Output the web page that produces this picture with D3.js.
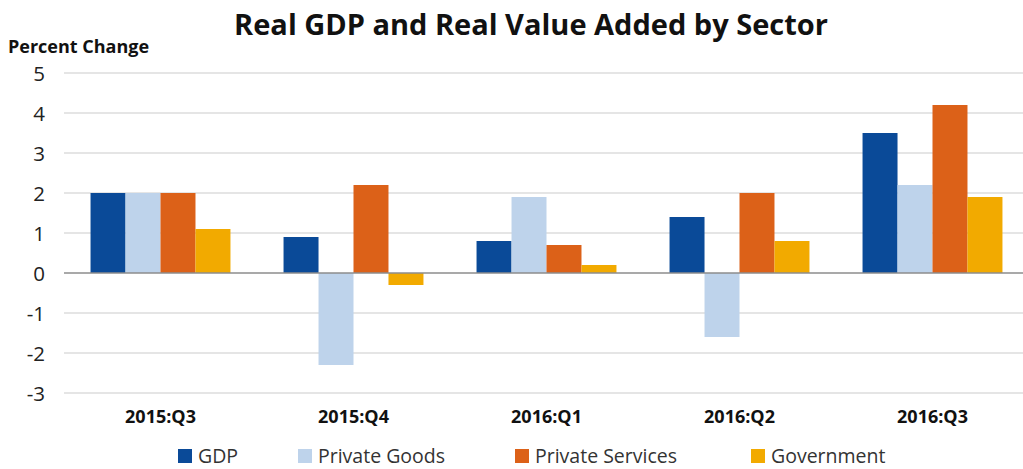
<!DOCTYPE html>
<html><head><meta charset="utf-8">
<script src="https://cdn.jsdelivr.net/npm/d3@7"></script>
<style>html,body{margin:0;padding:0;background:#fff;}</style>
</head><body>
<svg id="c" width="1023" height="469"></svg>
<script>
const categories = ["2015:Q3","2015:Q4","2016:Q1","2016:Q2","2016:Q3"];
const seriesNames = ["GDP","Private Goods","Private Services","Government"];
const gdp = [2.0, 0.9, 0.8, 1.4, 3.5];
const privateGoods = [2.0, -2.3, 1.9, -1.6, 2.2];
const privateServices = [2.0, 2.2, 0.7, 2.0, 4.2];
const government = [1.1, -0.3, 0.2, 0.8, 1.9];
const yTicks = [5,4,3,2,1,0,-1,-2,-3];
const colors = ["#0a4a98","#bed3eb","#dc6118","#f2aa00"];

const values = [gdp, privateGoods, privateServices, government];
const font = "'Open Sans', 'Noto Sans', sans-serif";
const svg = d3.select("#c");
const left = 64, right = 1029, gridRight = 1023;
const y = d3.scaleLinear().domain([-3,5]).range([393,73]);
const x0 = d3.scaleBand().domain(categories).range([left,right]).paddingInner(0.275).paddingOuter(0.1375);
const x1 = d3.scaleBand().domain(seriesNames).range([0,x0.bandwidth()]);

svg.append("text").attr("x",531).attr("y",35).attr("text-anchor","middle")
  .attr("font-family",font).attr("font-weight","bold").attr("font-size",29).attr("fill","#111")
  .text("Real GDP and Real Value Added by Sector");
svg.append("text").attr("x",8).attr("y",53)
  .attr("font-family",font).attr("font-weight","bold").attr("font-size",18).attr("fill","#111")
  .text("Percent Change");

// gridlines
svg.append("g").selectAll("line").data(yTicks.filter(d=>d!==0)).join("line")
  .attr("x1",left).attr("x2",gridRight).attr("y1",d=>y(d)).attr("y2",d=>y(d))
  .attr("stroke","#dcdcdc").attr("stroke-width",1.5);

// y labels
const yAxis = d3.axisLeft(y).tickValues(yTicks).tickSize(0).tickPadding(0).tickFormat(d=>String(d));
const ya = svg.append("g").attr("transform","translate(45,0)").call(yAxis);
ya.select(".domain").remove();
ya.selectAll("text").attr("font-family",font).attr("font-size",20.5).attr("fill","#222").attr("text-anchor","end").attr("dy","0.35em");

// bars
const g = svg.append("g");
categories.forEach((c,i)=>{
  seriesNames.forEach((s,j)=>{
    const v = values[j][i];
    g.append("rect").attr("x",x0(c)+x1(s)).attr("width",x1.bandwidth())
      .attr("y",y(Math.max(0,v))).attr("height",Math.abs(y(v)-y(0)))
      .attr("fill",colors[j]);
  });
});

// zero line
svg.append("line").attr("x1",left).attr("x2",gridRight).attr("y1",y(0)).attr("y2",y(0))
  .attr("stroke","#8c8c8c").attr("stroke-width",1.5);

// x labels
const xAxis = d3.axisBottom(x0).tickSize(0).tickPadding(0);
const xa = svg.append("g").attr("transform","translate(0,410)").call(xAxis);
xa.select(".domain").remove();
xa.selectAll("text").attr("font-family",font).attr("font-weight","bold").attr("font-size",18).attr("fill","#111");

// legend
const legX = [178, 298, 515, 751];
const leg = svg.append("g");
seriesNames.forEach((s,j)=>{
  leg.append("rect").attr("x",legX[j]).attr("y",449).attr("width",14).attr("height",14).attr("fill",colors[j]);
  leg.append("text").attr("x",legX[j]+20).attr("y",463).attr("font-family",font).attr("font-size",19.5).attr("fill","#333").text(s);
});
</script>
</body></html>
